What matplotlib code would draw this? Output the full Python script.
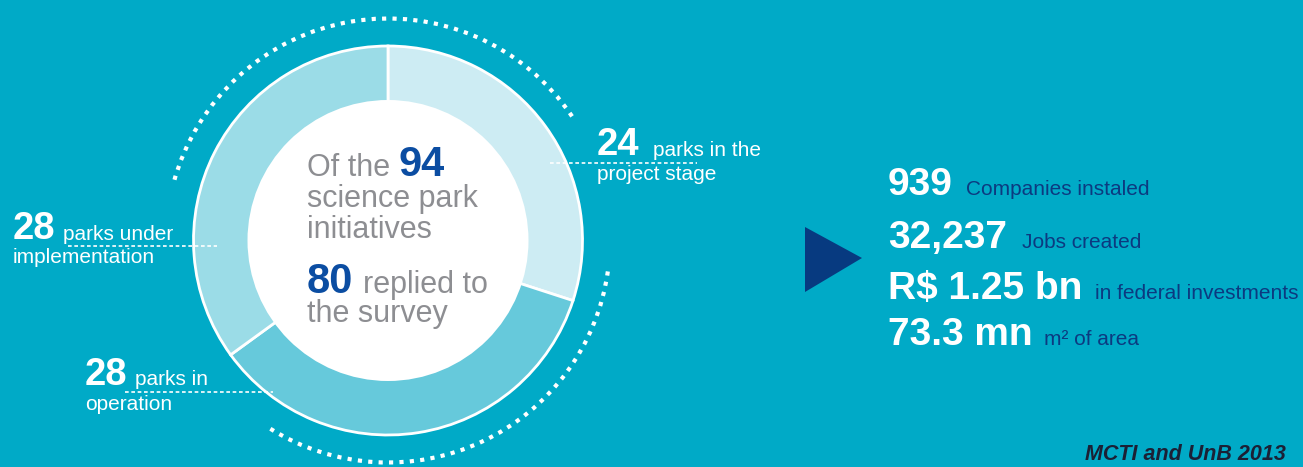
import numpy as np
import matplotlib
matplotlib.use('Agg')
import matplotlib.pyplot as plt
from matplotlib.patches import Circle, Arc, Polygon

# data
segment_labels = ['project stage', 'operation', 'implementation']
segment_values = [24, 28, 28]
segment_colors = ['#CDECF3', '#66C9DB', '#9BDCE7']

total_initiatives = 94
total_replied = 80

stats_values = ['939', '32,237', 'R$ 1.25 bn', '73.3 mn']
stats_labels = ['Companies instaled', 'Jobs created', 'in federal investments', 'm² of area']

source_text = 'MCTI and UnB 2013'

# layout (pixels, y measured from top)
W, H = 1303, 467
BG = '#00AAC7'
NAVY = '#0C3A80'
BLUE = '#0B4DA2'
GRAY = '#8D8E92'
FONT = 'Liberation Sans'

cx, cy = 388, 240.5
r_out, r_in = 194.5, 140.5


def py(y):
    return H - y


fig = plt.figure(figsize=(W / 100, H / 100), dpi=100)
fig.patch.set_facecolor(BG)
ax = fig.add_axes([0, 0, 1, 1])

# donut
ax.pie(segment_values, colors=segment_colors, radius=r_out, center=(cx, py(cy)),
       startangle=90, counterclock=False, frame=True,
       wedgeprops=dict(edgecolor='white', linewidth=2))
ax.set_xlim(0, W)
ax.set_ylim(0, H)
ax.set_aspect('equal')
ax.axis('off')
ax.add_patch(Circle((cx, py(cy)), r_in, facecolor='white', edgecolor='none', zorder=3))

# dotted outer arcs
for t1, t2 in [(34, 165), (-122, -8)]:
    ax.add_patch(Arc((cx, py(cy)), 2 * 222, 2 * 222, theta1=t1, theta2=t2,
                     color='white', linewidth=3, linestyle=(0, (1, 1.5)), zorder=4))

# leader lines
lead = dict(color='white', linewidth=1.2, linestyle=(0, (2.2, 1.6)), zorder=5)
ax.plot([550, 697], [py(163), py(163)], **lead)
ax.plot([68, 217], [py(246), py(246)], **lead)
ax.plot([125, 273], [py(392), py(392)], **lead)

# segment labels
big = dict(color='white', fontsize=27.5, fontweight='bold', family=FONT, va='baseline', zorder=6)
small = dict(color='white', fontsize=15, family=FONT, va='baseline', zorder=6)

ax.text(597, py(155), str(segment_values[0]), **big)
ax.text(653, py(156), 'parks in the', **small)
ax.text(597, py(180), segment_labels[0], **small)

ax.text(13, py(239), str(segment_values[2]), **big)
ax.text(63, py(240), 'parks under', **small)
ax.text(13, py(263), segment_labels[2], **small)

ax.text(85, py(385), str(segment_values[1]), **big)
ax.text(135, py(385), 'parks in', **small)
ax.text(85, py(410), segment_labels[1], **small)

# centre text
ctext = dict(color=GRAY, fontsize=22, family=FONT, va='baseline', zorder=6)
cnum = dict(color=BLUE, fontsize=30, fontweight='bold', family=FONT, va='baseline', zorder=6)
ax.text(307, py(176), 'Of the', **ctext)
ax.text(399, py(176), str(total_initiatives), **cnum)
ax.text(307, py(207), 'science park', **ctext)
ax.text(307, py(238), 'initiatives', **ctext)
ax.text(307, py(293), str(total_replied), **cnum)
ax.text(363, py(293), 'replied to', **ctext)
ax.text(307, py(322), 'the survey', **ctext)

# arrow
ax.add_patch(Polygon([(805, py(227)), (805, py(292)), (862, py(258))],
                     closed=True, facecolor='#073A80', edgecolor='none'))

# stats
stat_y = [195, 248, 299, 345]
label_x = [966, 1022, 1095, 1044]
for val, lab, y, lx in zip(stats_values, stats_labels, stat_y, label_x):
    ax.text(888, py(y), val, color='white', fontsize=28, fontweight='bold',
            family=FONT, va='baseline')
    ax.text(lx, py(y), lab, color=NAVY, fontsize=15, family=FONT, va='baseline')

ax.text(1085, py(460), source_text, color='#1B2035', fontsize=15.5, fontweight='bold',
        fontstyle='italic', family=FONT, va='baseline')

fig.savefig('out.png', dpi=100, facecolor=BG)
